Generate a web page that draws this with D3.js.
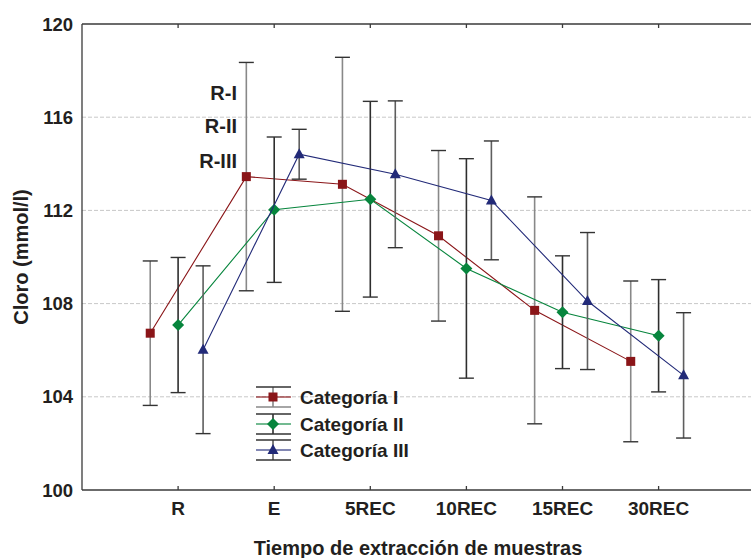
<!DOCTYPE html>
<html>
<head>
<meta charset="utf-8">
<script src="https://cdn.jsdelivr.net/npm/d3@7"></script>
<style>
  body { margin: 0; background: #fff; }
  text { font-family: 'Liberation Sans', Arial, sans-serif; font-weight: bold; fill: #231f20; }
</style>
</head>
<body>
<div id="chart"></div>
<script>
const W = 751, H = 558
const M = { top: 24, right: -3, bottom: 68, left: 82 }

const categories = ['R', 'E', '5REC', '10REC', '15REC', '30REC']
const seriesNames = ['Categoría I', 'Categoría II', 'Categoría III']

// means and +/- error per sampling time
const catI_mean = [106.73, 113.45, 113.12, 110.91, 107.71, 105.52]
const catI_err = [3.1, 4.9, 5.45, 3.66, 4.87, 3.45]
const catII_mean = [107.08, 112.03, 112.48, 109.51, 107.63, 106.62]
const catII_err = [2.9, 3.12, 4.2, 4.71, 2.42, 2.41]
const catIII_mean = [106.02, 114.41, 113.55, 112.43, 108.11, 104.92]
const catIII_err = [3.6, 1.07, 3.15, 2.55, 2.94, 2.69]

const yTicks = [100, 104, 108, 112, 116, 120]
const rLabels = ['R-I', 'R-II', 'R-III']

const series = [
  { name: seriesNames[0], mean: catI_mean, err: catI_err, color: '#8a1518', bar: '#888888', shape: 'square', off: -0.29 },
  { name: seriesNames[1], mean: catII_mean, err: catII_err, color: '#07853d', bar: '#2e2e2e', shape: 'diamond', off: 0 },
  { name: seriesNames[2], mean: catIII_mean, err: catIII_err, color: '#222a78', bar: '#5e5e5e', shape: 'triangle', off: 0.26 }
]

const svg = d3.select('#chart').append('svg')
  .attr('width', W).attr('height', H)

const x = d3.scaleLinear().domain([0, 7]).range([M.left, M.left + 7 * 96.1])
const y = d3.scaleLinear().domain([100, 120]).range([H - M.bottom, M.top])

// grid
svg.append('g').selectAll('line')
  .data(yTicks.filter(d => d > 100 && d < 120))
  .enter().append('line')
    .attr('x1', M.left).attr('x2', W)
    .attr('y1', d => y(d)).attr('y2', d => y(d))
    .attr('stroke', '#c8c8c8').attr('stroke-dasharray', '4,2').attr('stroke-width', 1)

// frame (left, top, bottom)
const frame = svg.append('g').attr('stroke', '#3a3a3a').attr('stroke-width', 1.3)
frame.append('line').attr('x1', M.left).attr('x2', M.left).attr('y1', y(120)).attr('y2', y(100))
frame.append('line').attr('x1', M.left).attr('x2', W).attr('y1', y(120)).attr('y2', y(120))
frame.append('line').attr('x1', M.left).attr('x2', W).attr('y1', y(100)).attr('y2', y(100))

// x ticks top and bottom
categories.forEach((c, i) => {
  frame.append('line').attr('x1', x(i + 1)).attr('x2', x(i + 1)).attr('y1', y(100)).attr('y2', y(100) - 4)
  frame.append('line').attr('x1', x(i + 1)).attr('x2', x(i + 1)).attr('y1', y(120)).attr('y2', y(120) + 4)
})

svg.append('g').selectAll('text')
  .data(categories)
  .enter().append('text')
    .attr('x', (d, i) => x(i + 1))
    .attr('y', y(100) + 25)
    .attr('text-anchor', 'middle')
    .attr('font-size', 19)
    .text(d => d)

svg.append('g').selectAll('text')
  .data(yTicks)
  .enter().append('text')
    .attr('x', 73)
    .attr('y', d => y(d))
    .attr('dy', '0.36em')
    .attr('text-anchor', 'end')
    .attr('font-size', 18.5)
    .text(d => d)

svg.append('text')
  .attr('x', (M.left + W + 3) / 2)
  .attr('y', 555)
  .attr('text-anchor', 'middle')
  .attr('font-size', 20)
  .text('Tiempo de extracción de muestras')

svg.append('text')
  .attr('transform', 'translate(28,' + ((y(100) + y(120)) / 2) + ') rotate(-90)')
  .attr('text-anchor', 'middle')
  .attr('font-size', 20)
  .text('Cloro (mmol/l)')

// R-I, R-II, R-III labels
svg.append('g').selectAll('text')
  .data(rLabels)
  .enter().append('text')
    .attr('x', 237)
    .attr('y', (d, i) => [100, 133, 168][i])
    .attr('text-anchor', 'end')
    .attr('font-size', 20)
    .text(d => d)

function marker(sel, shape, color) {
  if (shape === 'square') {
    sel.append('rect').attr('x', -4.5).attr('y', -4.5).attr('width', 9).attr('height', 9).attr('fill', color)
  } else if (shape === 'diamond') {
    sel.append('path').attr('d', 'M0,-6L6,0L0,6L-6,0Z').attr('fill', color)
  } else {
    sel.append('path').attr('d', 'M0,-6L5.5,4L-5.5,4Z').attr('fill', color)
  }
}

const capW = 7.5

series.forEach(s => {
  const g = svg.append('g')
  const pts = s.mean.map((m, i) => ({ cx: x(i + 1 + s.off), m: m, e: s.err[i] }))

  // error bars
  pts.forEach(p => {
    g.append('line').attr('x1', p.cx).attr('x2', p.cx)
      .attr('y1', y(p.m + p.e)).attr('y2', y(p.m - p.e))
      .attr('stroke', s.bar).attr('stroke-width', 1.6)
    ;[p.m + p.e, p.m - p.e].forEach(v => {
      g.append('line').attr('x1', p.cx - capW).attr('x2', p.cx + capW)
        .attr('y1', y(v)).attr('y2', y(v))
        .attr('stroke', '#333').attr('stroke-width', 1.4)
    })
  })

  g.append('path')
    .datum(pts)
    .attr('fill', 'none')
    .attr('stroke', s.color)
    .attr('stroke-width', 1.1)
    .attr('d', d3.line().x(p => p.cx).y(p => y(p.m)))

  pts.forEach(p => {
    g.append('g').attr('transform', 'translate(' + p.cx + ',' + y(p.m) + ')')
      .call(marker, s.shape, s.color)
  })
})

// legend
const legend = svg.append('g')
series.forEach((s, i) => {
  const ly = [397, 424, 450][i]
  const lg = legend.append('g').attr('transform', 'translate(273,' + ly + ')')
  lg.append('line').attr('x1', 0).attr('x2', 0).attr('y1', -10).attr('y2', 10)
    .attr('stroke', s.bar).attr('stroke-width', 1.6)
  ;[-10, 10].forEach(v => {
    lg.append('line').attr('x1', -17).attr('x2', 18).attr('y1', v).attr('y2', v)
      .attr('stroke', i === 0 && v > 0 ? '#888' : '#333').attr('stroke-width', 1.3)
  })
  lg.append('line').attr('x1', -17).attr('x2', 18).attr('y1', 0).attr('y2', 0)
    .attr('stroke', s.color).attr('stroke-width', 1.4).attr('opacity', 0.75)
  lg.call(marker, s.shape, s.color)
  legend.append('text')
    .attr('x', 300).attr('y', ly).attr('dy', '0.36em')
    .attr('font-size', 19)
    .text(s.name)
})
</script>
</body>
</html>
